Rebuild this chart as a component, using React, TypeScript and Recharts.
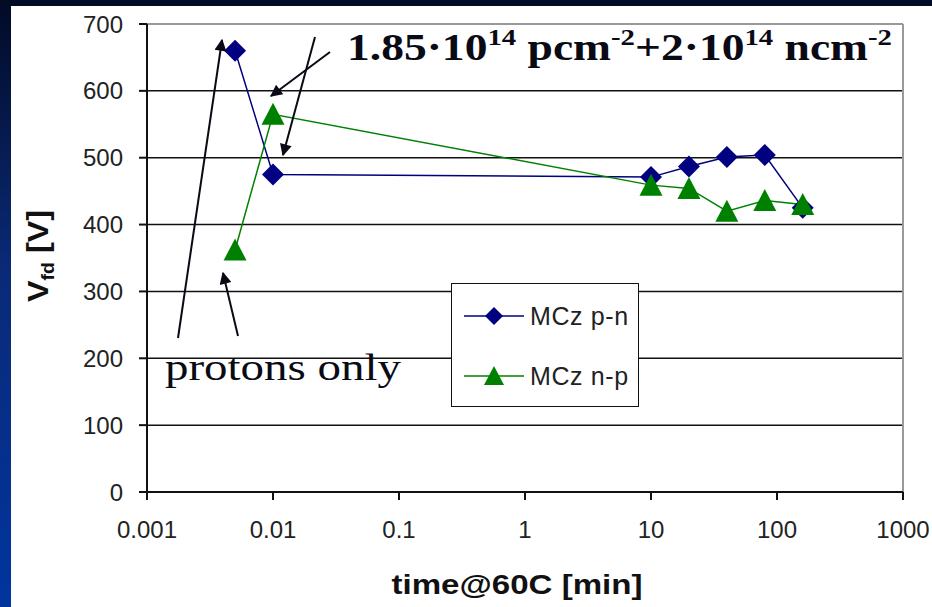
import React from 'react';
import { CartesianGrid, Legend, Line, LineChart, ReferenceLine, XAxis, YAxis } from 'recharts';

// annealing time at 60C in minutes
const times = [0.005, 0.01, 10, 20, 40, 80, 160];
// full depletion voltage [V]
const mczPN = [660, 475, 471, 487, 501, 504, 425];
const mczNP = [362, 565, 459, 454, 420, 436, 430];
const seriesNames = ['MCz p-n', 'MCz n-p'];
const xTicks = [0.001, 0.01, 0.1, 1, 10, 100, 1000];
const yTicks = [0, 100, 200, 300, 400, 500, 600, 700];

const BLUE = '#000080';
const GREEN = '#008000';
const SANS = '"Liberation Sans", Arial, sans-serif';
const SERIF = '"Liberation Serif", "Times New Roman", serif';

const data = times.map((t, i) => ({ t, pn: mczPN[i], np: mczNP[i] }));

const Diamond = ({ cx, cy, r = 11, color = BLUE }: any) => (
  <path d={`M${cx},${cy - r}L${cx + r},${cy}L${cx},${cy + r}L${cx - r},${cy}Z`} fill={color} />
);

const Triangle = ({ cx, cy, r = 11.5, color = GREEN }: any) => (
  <path d={`M${cx},${cy - r}L${cx + r},${cy + r - 1}L${cx - r},${cy + r - 1}Z`} fill={color} />
);

const renderLegend = ({ payload }: any) => {
  const items = [...(payload || [])].sort(
    (a: any, b: any) => seriesNames.indexOf(a.value) - seriesNames.indexOf(b.value)
  );
  return (
    <div
      style={{
        width: 188,
        height: 124,
        boxSizing: 'border-box',
        border: '1.5px solid #111',
        background: '#fff',
        paddingTop: 2,
      }}
    >
      {items.map((p: any) => (
        <div key={p.value} style={{ display: 'flex', alignItems: 'center', height: 60 }}>
          <svg width={76} height={30} style={{ marginLeft: 10 }}>
            <line x1={2} y1={15} x2={62} y2={15} stroke={p.color} strokeWidth={1.5} />
            {p.dataKey === 'pn' ? <Diamond cx={32} cy={15} r={9} /> : <Triangle cx={32} cy={15} r={10} />}
          </svg>
          <span style={{ fontFamily: SANS, fontSize: 25, letterSpacing: 0.6, color: '#222', marginLeft: -8 }}>
            {p.value}
          </span>
        </div>
      ))}
    </div>
  );
};

export default function App() {
  return (
    <div style={{ position: 'absolute', left: 0, top: 0, width: 932, height: 607, background: '#fff', overflow: 'hidden' }}>
      <div style={{ position: 'absolute', left: 0, top: 0, width: 932, height: 6, background: '#020b26' }} />
      <div
        style={{
          position: 'absolute',
          left: 0,
          top: 0,
          width: 11,
          height: 607,
          background: 'linear-gradient(#020b26, #0a2a78 45%, #00359e)',
        }}
      />
      <div style={{ position: 'absolute', left: 0, top: 0 }}>
        <LineChart width={932} height={607} data={data} margin={{ top: 24, right: 29, bottom: 0, left: 0 }}>
          <CartesianGrid vertical={false} stroke="#111" strokeWidth={1.5} />
          <XAxis
            dataKey="t"
            type="number"
            scale="log"
            domain={[0.001, 1000]}
            ticks={xTicks}
            allowDataOverflow
            tickFormatter={(v: number) => String(v)}
            height={115}
            tickSize={8}
            tickMargin={21}
            axisLine={{ stroke: '#111', strokeWidth: 2 }}
            tickLine={{ stroke: '#111', strokeWidth: 2 }}
            tick={{ fontSize: 24, fill: '#222', fontFamily: SANS }}
          />
          <YAxis
            type="number"
            domain={[0, 700]}
            ticks={yTicks}
            width={147}
            tickSize={8}
            tickMargin={16}
            axisLine={{ stroke: '#111', strokeWidth: 2 }}
            tickLine={{ stroke: '#111', strokeWidth: 2 }}
            tick={{ fontSize: 24, fill: '#222', fontFamily: SANS }}
          />
          <ReferenceLine y={700} stroke="#999" strokeWidth={2} />
          <ReferenceLine x={1000} stroke="#999" strokeWidth={2} />
          <Legend
            layout="vertical"
            align="center"
            verticalAlign="middle"
            content={renderLegend}
            wrapperStyle={{ left: 451, top: 283, width: 188, height: 124 }}
          />
          <Line
            dataKey="pn"
            name={seriesNames[0]}
            type="linear"
            stroke={BLUE}
            strokeWidth={1.5}
            isAnimationActive={false}
            dot={(p: any) => <Diamond key={`d${p.index}`} cx={p.cx} cy={p.cy} />}
            activeDot={false}
          />
          <Line
            dataKey="np"
            name={seriesNames[1]}
            type="linear"
            stroke={GREEN}
            strokeWidth={1.5}
            isAnimationActive={false}
            dot={(p: any) => <Triangle key={`t${p.index}`} cx={p.cx} cy={p.cy} />}
            activeDot={false}
          />
        </LineChart>
      </div>
      <svg width={932} height={607} style={{ position: 'absolute', left: 0, top: 0, pointerEvents: 'none' }}>
        <defs>
          <marker id="ah" viewBox="0 0 10 10" refX={9} refY={5} markerWidth={8} markerHeight={6} orient="auto" markerUnits="strokeWidth">
            <path d="M0,0L10,5L0,10Z" fill="#0a0a14" />
          </marker>
        </defs>
        <g stroke="#0a0a14" strokeWidth={2} markerEnd="url(#ah)">
          <line x1={178} y1={338} x2={222} y2={40} />
          <line x1={238} y1={336} x2={223} y2={273} />
          <line x1={330} y1={52} x2={271} y2={96} />
          <line x1={315} y1={37} x2={283} y2={155} />
        </g>
        <text
          x={347}
          y={60}
          fontFamily={SERIF}
          fontWeight="bold"
          fontSize={38}
          fill="#0a0a14"
          textLength={545}
          lengthAdjust="spacingAndGlyphs"
        >
          1.85·10<tspan fontSize={24} dy={-15}>14</tspan>
          <tspan dy={15}> pcm</tspan>
          <tspan fontSize={24} dy={-15}>-2</tspan>
          <tspan dy={15}>+2·10</tspan>
          <tspan fontSize={24} dy={-15}>14</tspan>
          <tspan dy={15}> ncm</tspan>
          <tspan fontSize={24} dy={-15}>-2</tspan>
        </text>
        <text x={165} y={380} fontFamily={SERIF} fontSize={38} fill="#0a0a14" textLength={236} lengthAdjust="spacingAndGlyphs">
          protons only
        </text>
        <text
          x={517}
          y={594}
          textAnchor="middle"
          fontFamily={SANS}
          fontWeight="bold"
          fontSize={28}
          fill="#111"
          textLength={251}
          lengthAdjust="spacingAndGlyphs"
        >
          time@60C [min]
        </text>
        <text
          transform="translate(48,256) rotate(-90)"
          textAnchor="middle"
          fontFamily={SANS}
          fontWeight="bold"
          fontSize={30}
          fill="#111"
          textLength={92}
          lengthAdjust="spacingAndGlyphs"
        >
          V<tspan fontSize={18} dy={6}>fd</tspan>
          <tspan dy={-6}> [V]</tspan>
        </text>
      </svg>
    </div>
  );
}
